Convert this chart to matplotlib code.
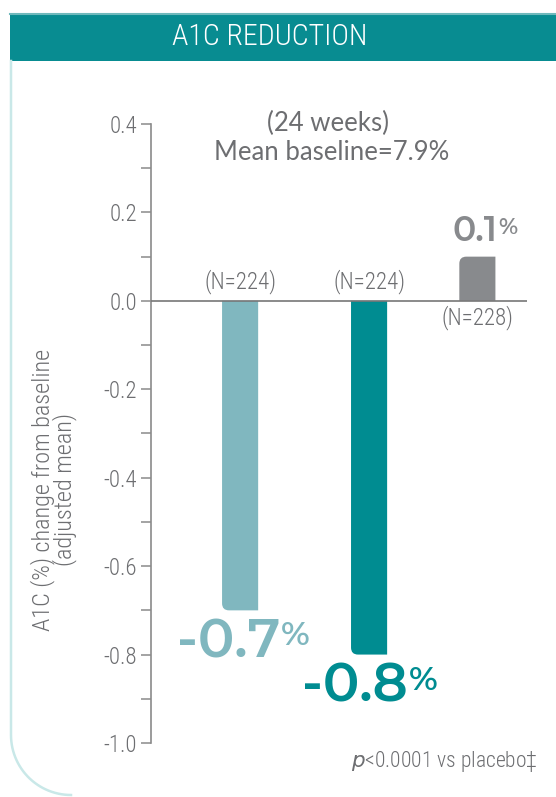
import matplotlib
matplotlib.use('Agg')
import numpy as np
import matplotlib.pyplot as plt
from matplotlib import font_manager as fm
from matplotlib.font_manager import FontProperties
from matplotlib.path import Path
from matplotlib.patches import PathPatch, Rectangle

plt.rcParams['axes.unicode_minus'] = False

# data
groups = ['Drug 5 mg', 'Drug 10 mg', 'Placebo']
values = [-0.7, -0.8, 0.1]
n_labels = ['(N=224)', '(N=224)', '(N=228)']
value_labels = ['-0.7', '-0.8', '0.1']
y_ticks = [0.4, 0.2, 0.0, -0.2, -0.4, -0.6, -0.8, -1.0]

# layout / style
x_pos = [0.237, 0.580, 0.868]
bar_w = 0.096
colors = ['#80b7bf', '#008c91', '#888a8d']
gray = '#6d6e71'
W, H = 556, 797


def pick(names, weight, size):
    # static font files only (variable fonts render at their default weight)
    for n in names:
        c = [f for f in fm.fontManager.ttflist if f.name == n and f.style == 'normal'
             and '[' not in f.fname and 'Variable' not in f.fname and isinstance(f.weight, int)]
        if c:
            best = min(c, key=lambda f: abs(f.weight - weight))
            if abs(best.weight - weight) <= 100:
                return FontProperties(fname=best.fname, size=size)
    return FontProperties(family='DejaVu Sans', weight=weight, size=size)


def narrow(size):
    return pick(['Roboto Condensed', 'Fira Sans Condensed', 'Open Sans Condensed'], 300, size)


fig = plt.figure(figsize=(W / 100, H / 100), dpi=100)

# header band
fig.patches.append(Rectangle((10 / W, 1 - 61 / H), 1, 48 / H, transform=fig.transFigure,
                             facecolor='#088c91', edgecolor='none', zorder=0))
fig.lines.append(plt.Line2D([10 / W, 1], [1 - 13.5 / H, 1 - 13.5 / H], transform=fig.transFigure,
                            color='#6fb9bc', lw=1.5))
fig.text(270 / W, 1 - 37 / H, 'A1C REDUCTION', ha='center', va='center', color='white',
         fontproperties=narrow(21.5))

# card border (left side with rounded bottom corner)
t = np.linspace(np.pi, 1.5 * np.pi, 30)
r = 60
cx, cy = 11 + r, 735
bx = [11, 11] + list(cx + r * np.cos(t))
by = [61, cy] + list(cy - r * np.sin(t))
fig.lines.append(plt.Line2D(np.array(bx) / W, 1 - np.array(by) / H, transform=fig.transFigure,
                            color='#c9e8e8', lw=1.8))

ax = fig.add_axes([151 / W, 1 - 743 / H, 376 / W, 619 / H])
ax.set_xlim(0, 1)
ax.set_ylim(-1.0, 0.4)
for s in ['top', 'right', 'bottom']:
    ax.spines[s].set_visible(False)
ax.spines['left'].set_color('#8a8a8a')
ax.spines['left'].set_linewidth(1.2)
ax.set_xticks([])
ax.set_yticks(y_ticks)
ax.set_yticklabels(['%.1f' % v for v in y_ticks], fontproperties=narrow(16.5), color=gray)
ax.set_yticks(np.arange(-0.9, 0.4, 0.2), minor=True)
ax.tick_params(axis='y', which='both', length=7, width=1.1, color='#8a8a8a', pad=3)
ax.axhline(0, color='#777777', lw=1.2, zorder=3)

ax.set_ylabel('A1C (%) change from baseline\n(adjusted mean)', fontproperties=narrow(17.5),
              color=gray, linespacing=0.85)
ax.yaxis.set_label_coords(-0.197, 0.409)

# bars with one rounded corner
fig.canvas.draw()
px = ax.transData.transform((1, 1)) - ax.transData.transform((0, 0))
rx, ry = 7 / px[0], 7 / px[1]
for x, v, c in zip(x_pos, values, colors):
    x0, x1 = x - bar_w / 2, x + bar_w / 2
    sgn = np.sign(v)
    verts = [(x0, 0), (x1, 0), (x1, v), (x0 + rx, v), (x0, v), (x0, v - sgn * ry), (x0, 0)]
    codes = [Path.MOVETO, Path.LINETO, Path.LINETO, Path.LINETO, Path.CURVE3, Path.CURVE3,
             Path.CLOSEPOLY]
    ax.add_patch(PathPatch(Path(verts, codes), facecolor=c, edgecolor='none', zorder=2))

# N labels
for x, v, n in zip(x_pos, values, n_labels):
    if v < 0:
        ax.annotate(n, (x, 0), xytext=(0, 5), textcoords='offset points', ha='center',
                    va='bottom', fontproperties=narrow(16.5), color=gray)
    else:
        ax.annotate(n, (x, 0), xytext=(0, -3), textcoords='offset points', ha='center',
                    va='top', fontproperties=narrow(16.5), color=gray)

# value labels: (fontsize, % size, offset in points)
bold_fonts = ['Montserrat', 'Montserrat Alternates', 'Lato', 'Open Sans']
big = [(39, 24, (-8.5, -5)), (39, 24, (-10, -5)), (25, 16, (-2, 6))]
for x, v, lab, c, (fs, fs2, off) in zip(x_pos, values, value_labels, colors, big):
    va = 'top' if v < 0 else 'bottom'
    t1 = ax.annotate(lab, (x, v), xytext=off, textcoords='offset points', ha='center', va=va,
                     color=c, fontproperties=pick(bold_fonts, 600, fs))
    fig.canvas.draw()
    bb = t1.get_window_extent()
    fig.text(bb.x1 / W + 1 / W, bb.y1 / H - 3 / H, '%', ha='left', va='top', color=c,
             fontproperties=pick(bold_fonts, 600, fs2))

reg_fonts = ['Montserrat', 'Lato', 'Open Sans']
fig.text(328 / W, 1 - 123 / H, '(24 weeks)', ha='center', va='center', color=gray,
         fontproperties=pick(reg_fonts, 400, 18.5))
fig.text(332 / W, 1 - 153 / H, 'Mean baseline=7.9%', ha='center', va='center', color=gray,
         fontproperties=pick(reg_fonts, 400, 18.5))

fig.text(538 / W, 1 - 762 / H, r'$\mathit{p}$<0.0001 vs placebo‡', ha='right', va='center',
         color=gray, fontproperties=narrow(15.5))

fig.savefig('out.png', dpi=100)
